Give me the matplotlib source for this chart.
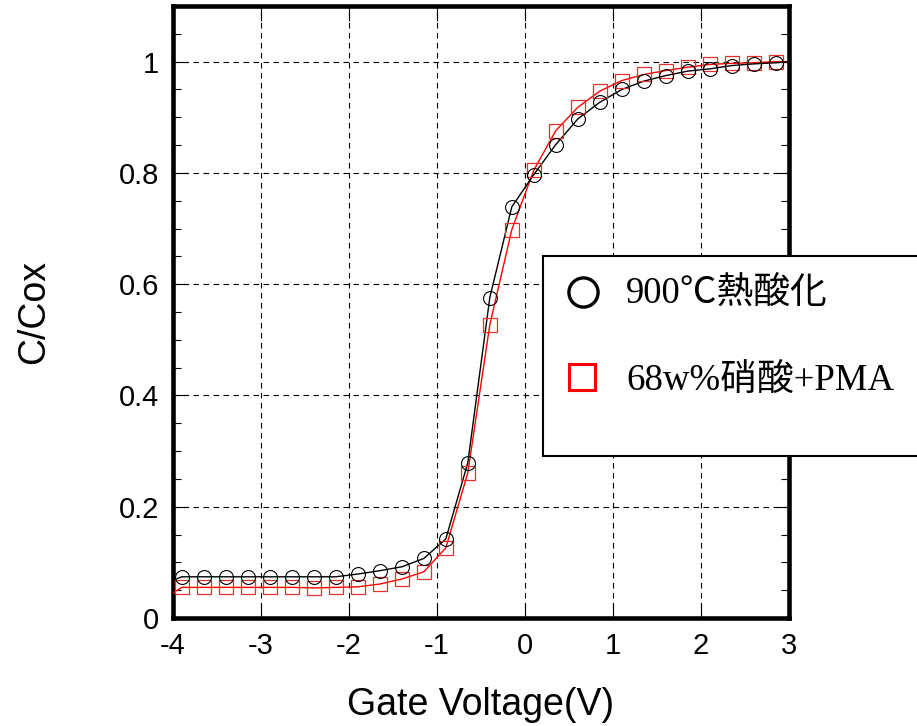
import numpy as np
import matplotlib
matplotlib.use("Agg")
import matplotlib.pyplot as plt
from matplotlib.lines import Line2D
from matplotlib.patches import Rectangle
from matplotlib.ticker import MultipleLocator, FormatStrFormatter

plt.rcParams["font.family"] = ["Liberation Sans", "DejaVu Sans"]
plt.rcParams["axes.unicode_minus"] = False

# measured points (gate voltage, C/Cox)
volt = [-3.9, -3.65, -3.4, -3.15, -2.9, -2.65, -2.4, -2.15, -1.9, -1.65,
        -1.4, -1.15, -0.9, -0.65, -0.4, -0.15, 0.1, 0.35, 0.6, 0.85,
        1.1, 1.35, 1.6, 1.85, 2.1, 2.35, 2.6, 2.85]
thermal = [0.074, 0.074, 0.074, 0.074, 0.074, 0.074, 0.074, 0.074, 0.079, 0.085,
           0.092, 0.107, 0.142, 0.279, 0.576, 0.739, 0.797, 0.851, 0.897, 0.927,
           0.950, 0.965, 0.975, 0.983, 0.987, 0.993, 0.996, 0.998]
nitric = [0.055, 0.055, 0.055, 0.055, 0.055, 0.055, 0.054, 0.055, 0.056, 0.061,
          0.070, 0.083, 0.126, 0.261, 0.527, 0.698, 0.805, 0.876, 0.918, 0.947,
          0.966, 0.977, 0.984, 0.990, 0.995, 0.997, 0.998, 1.0]

# curve ends read at the axis edges
edge_v = [-4.0, 3.0]
thermal_edge = [0.068, 1.0]
nitric_edge = [0.045, 1.0]

labels = ["900℃熱酸化", "68w%硝酸+PMA"]

fig = plt.figure(figsize=(9.17, 7.26), dpi=100)
ax = fig.add_axes([0.1887, 0.1488, 0.6717, 0.8429])

# lines
ax.plot([edge_v[0]] + volt + [edge_v[1]], [nitric_edge[0]] + nitric + [nitric_edge[1]],
        color="red", lw=1.0, zorder=3)
ax.plot([edge_v[0]] + volt + [edge_v[1]], [thermal_edge[0]] + thermal + [thermal_edge[1]],
        color="black", lw=1.0, zorder=3)
# markers
ax.plot(volt, nitric, ls="none", marker="s", ms=9.5, mfc="none",
        mec="#e03030", mew=0.9, zorder=4)
ax.plot(volt, thermal, ls="none", marker="o", ms=10, mfc="none",
        mec="black", mew=0.8, zorder=5)

ax.set_xlim(-4, 3)
ax.set_ylim(0, 1.1)
ax.xaxis.set_major_locator(MultipleLocator(1))
ax.yaxis.set_major_locator(MultipleLocator(0.2))
ax.yaxis.set_minor_locator(MultipleLocator(0.05))
ax.yaxis.set_major_formatter(FormatStrFormatter("%g"))

ax.tick_params(which="both", direction="in", top=True, right=True, width=0.8,
               labelsize=21)
ax.tick_params(which="major", length=11, pad=10)
ax.tick_params(which="minor", length=6)
for s in ax.spines.values():
    s.set_linewidth(3.3)

ax.grid(True, which="major", color="black", lw=0.8, linestyle=(0, (5, 4)))

ax.set_xlabel("Gate Voltage(V)", fontsize=27)
ax.set_ylabel("C/Cox", fontsize=27)
ax.xaxis.set_label_coords(0.5, -0.112)
ax.yaxis.set_label_coords(-0.196, 0.5)

# legend box, drawn over the right spine
W, H = 917.0, 726.0
fig.patches.append(Rectangle((543 / W, 1 - 456 / H), 400 / W, 200 / H,
                             transform=fig.transFigure, facecolor="white",
                             edgecolor="black", lw=1.5, zorder=10))
fig.lines.append(Line2D([582.7 / W], [1 - 291.7 / H], transform=fig.transFigure,
                        marker="o", ms=21, mfc="none", mec="black", mew=2.4, zorder=11))
fig.lines.append(Line2D([582.0 / W], [1 - 377.0 / H], transform=fig.transFigure,
                        marker="s", ms=19, mfc="none", mec="red", mew=2.2, zorder=11))
leg_font = ["Liberation Serif", "Noto Sans CJK JP", "DejaVu Sans"]
fig.text(626 / W, 1 - 303 / H, labels[0], fontsize=26.5, family=leg_font,
         va="baseline", ha="left", zorder=12)
fig.text(626 / W, 1 - 390 / H, labels[1], fontsize=26.5, family=leg_font,
         va="baseline", ha="left", zorder=12)

fig.savefig("out.png", dpi=100)
